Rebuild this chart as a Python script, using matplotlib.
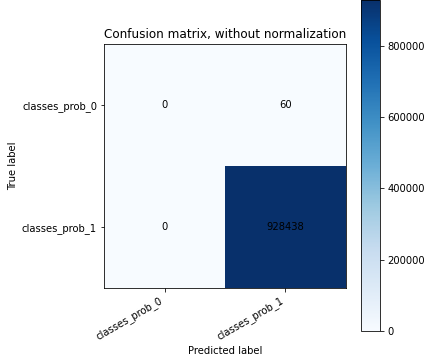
import numpy as np
import matplotlib
matplotlib.use("Agg")
import matplotlib.pyplot as plt

classes = ["classes_prob_0", "classes_prob_1"]
cm = np.array([[0, 60],
               [0, 928438]])

fig = plt.figure(figsize=(439 / 72, 364 / 72), dpi=72)
ax = fig.add_axes([0.237, 0.209, 0.551, 0.670])
cax = fig.add_axes([0.823, 0.091, 0.043, 0.909])

im = ax.imshow(cm, interpolation="nearest", cmap=plt.cm.Blues, aspect="auto")
ax.set_title("Confusion matrix, without normalization", fontsize=12)
cb = fig.colorbar(im, cax=cax)
cb.ax.tick_params(labelsize=10)

ticks = np.arange(len(classes))
ax.set_xticks(ticks)
ax.set_xticklabels(classes, rotation=30, ha="right", fontsize=10)
ax.set_yticks(ticks)
ax.set_yticklabels(classes, fontsize=10)

for i in range(cm.shape[0]):
    for j in range(cm.shape[1]):
        ax.text(j, i, format(cm[i, j], "d"), ha="center", va="center",
                color="black", fontsize=10)

ax.set_ylabel("True label", fontsize=10)
ax.set_xlabel("Predicted label", fontsize=10)

fig.savefig("out.png", dpi=72)
